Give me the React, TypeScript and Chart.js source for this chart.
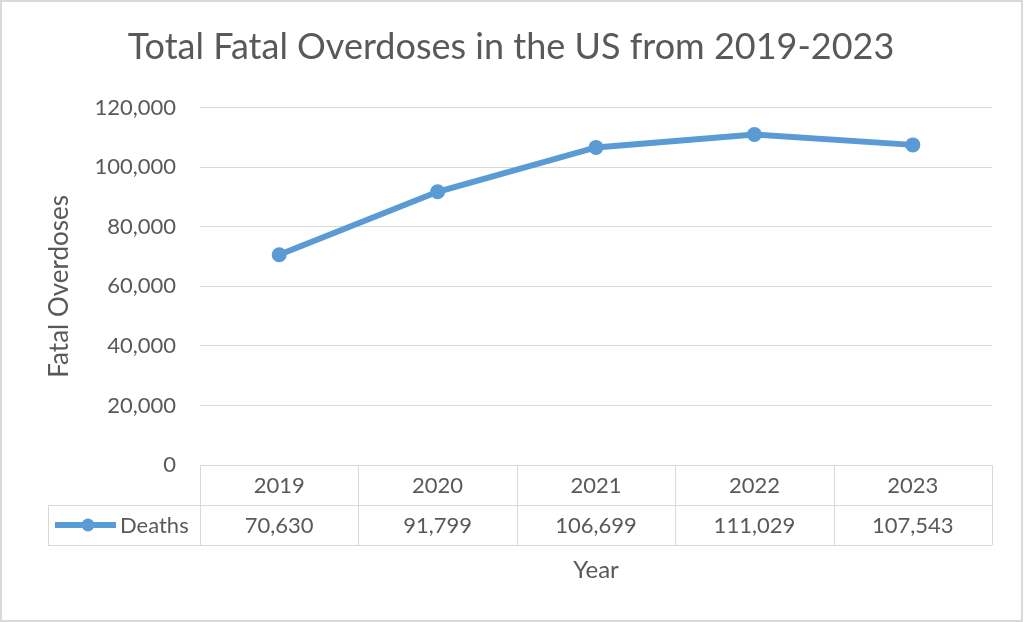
import React, { useEffect, useRef } from "react";
import { Chart, registerables } from "chart.js";

Chart.register(...registerables);

const years = ["2019", "2020", "2021", "2022", "2023"];
const deaths = [70630, 91799, 106699, 111029, 107543];
const seriesLabel = "Deaths";
const yMin = 0;
const yMax = 120000;
const yStep = 20000;
const chartTitle = "Total Fatal Overdoses in the US from 2019-2023";
const xTitle = "Year";
const yTitle = "Fatal Overdoses";

const FONT = "Lato, 'Open Sans', sans-serif";
const TEXT = "#595959";
const GRID = "#d9d9d9";
const LINE = "#5b9bd5";

const fmt = (v: number) => Number(v).toLocaleString("en-US");

const frame = {
  id: "frame",
  beforeDraw(chart: any) {
    const { ctx, width, height } = chart;
    ctx.save();
    ctx.fillStyle = "#ffffff";
    ctx.fillRect(0, 0, width, height);
    ctx.strokeStyle = GRID;
    ctx.lineWidth = 2;
    ctx.strokeRect(1, 1, width - 3, height - 2);
    ctx.restore();
  },
};

const dataTable = {
  id: "dataTable",
  afterDraw(chart: any) {
    const { ctx, chartArea } = chart;
    const x = chart.scales.x;
    const n = years.length;
    const w = chartArea.width / n;
    const rowH = 40;
    const top = chartArea.bottom;
    const legLeft = 48;
    ctx.save();
    ctx.strokeStyle = GRID;
    ctx.lineWidth = 1;
    ctx.beginPath();
    ctx.moveTo(chartArea.left, top + 0.5);
    ctx.lineTo(chartArea.right, top + 0.5);
    ctx.moveTo(legLeft, top + rowH + 0.5);
    ctx.lineTo(chartArea.right, top + rowH + 0.5);
    ctx.moveTo(legLeft, top + 2 * rowH + 0.5);
    ctx.lineTo(chartArea.right, top + 2 * rowH + 0.5);
    for (let i = 0; i <= n; i++) {
      const bx = Math.round(chartArea.left + i * w) + 0.5;
      ctx.moveTo(bx, top);
      ctx.lineTo(bx, top + 2 * rowH);
    }
    ctx.moveTo(legLeft + 0.5, top + rowH);
    ctx.lineTo(legLeft + 0.5, top + 2 * rowH);
    ctx.stroke();

    ctx.fillStyle = TEXT;
    ctx.font = `22px ${FONT}`;
    ctx.textAlign = "center";
    ctx.textBaseline = "middle";
    years.forEach((yr, i) => {
      const cx = x.getPixelForValue(i);
      ctx.fillText(yr, cx, top + rowH / 2 + 1);
      ctx.fillText(fmt(deaths[i]), cx, top + rowH * 1.5 + 1);
    });

    // legend key
    const ly = top + rowH * 1.5;
    ctx.strokeStyle = LINE;
    ctx.lineWidth = 6;
    ctx.lineCap = "butt";
    ctx.beginPath();
    ctx.moveTo(55, ly);
    ctx.lineTo(116, ly);
    ctx.stroke();
    ctx.fillStyle = LINE;
    ctx.beginPath();
    ctx.arc(88, ly, 6.5, 0, Math.PI * 2);
    ctx.fill();
    ctx.fillStyle = TEXT;
    ctx.textAlign = "left";
    ctx.fillText(seriesLabel, 120, ly + 1);
    ctx.restore();
  },
};

export default function App() {
  const ref = useRef<HTMLCanvasElement | null>(null);
  useEffect(() => {
    if (!ref.current) return;
    const chart = new Chart(ref.current, {
      type: "line",
      data: {
        labels: years,
        datasets: [
          {
            label: seriesLabel,
            data: deaths,
            borderColor: LINE,
            backgroundColor: LINE,
            borderWidth: 6,
            pointRadius: 7.5,
            pointBorderWidth: 0,
            pointBackgroundColor: LINE,
            tension: 0,
          },
        ],
      },
      options: {
        responsive: false,
        animation: false,
        layout: { padding: { left: 30, right: 32, top: 0, bottom: 0 } },
        plugins: {
          legend: { display: false },
          tooltip: { enabled: false },
          title: {
            display: true,
            text: chartTitle,
            color: TEXT,
            font: { family: FONT, size: 36, weight: "normal" },
            padding: { top: 25.5, bottom: 39.1 },
          },
        },
        scales: {
          x: {
            type: "category",
            offset: true,
            grid: { display: false },
            border: { display: false },
            ticks: { display: false },
            title: {
              display: true,
              text: xTitle,
              color: TEXT,
              font: { family: FONT, size: 24 },
              padding: { top: 0, bottom: 37 },
            },
            afterFit: (s: any) => {
              s.height = 157;
            },
          },
          y: {
            min: yMin,
            max: yMax,
            ticks: {
              stepSize: yStep,
              color: TEXT,
              padding: 24,
              font: { family: FONT, size: 22 },
              callback: (v: any) => fmt(v),
            },
            grid: { color: GRID, drawTicks: false, lineWidth: 1 },
            border: { display: false },
            title: {
              display: true,
              text: yTitle,
              color: TEXT,
              font: { family: FONT, size: 26 },
              padding: { top: 14, bottom: 0 },
            },
            afterFit: (s: any) => {
              s.width = 170;
            },
          },
        },
      },
      plugins: [frame, dataTable],
    });
    return () => chart.destroy();
  }, []);
  return (
    <div style={{ position: "fixed", left: 0, top: 0, width: 1024, height: 622 }}>
      <canvas ref={ref} width={1024} height={622} style={{ width: 1024, height: 622 }} />
    </div>
  );
}
